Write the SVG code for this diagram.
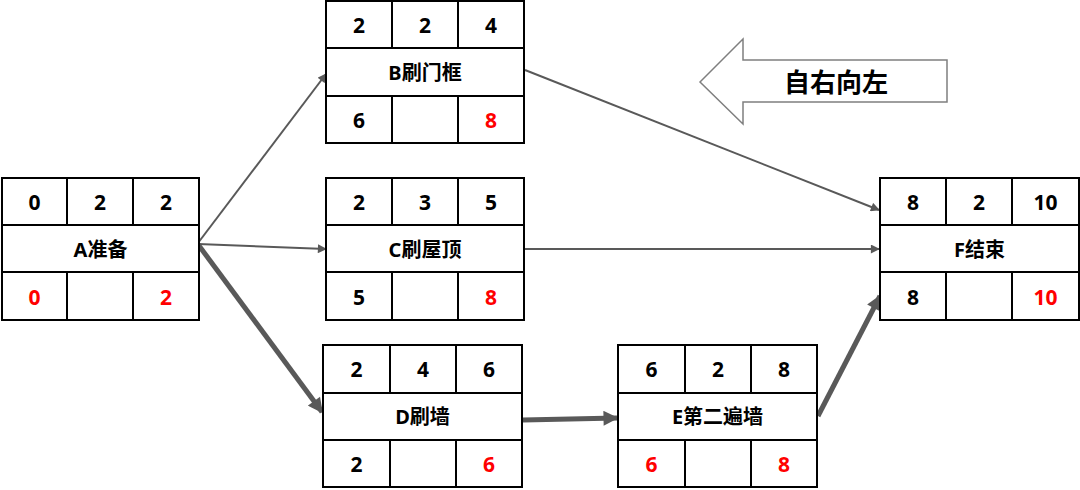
<svg xmlns="http://www.w3.org/2000/svg" width="1080" height="490" viewBox="0 0 1080 490">
<style>
.box{fill:#fff;stroke:#000;stroke-width:2}
.ln{stroke:#000;stroke-width:2}
.t{font-family:"Noto Sans","Noto Sans CJK SC",sans-serif;font-weight:bold;font-size:21px;text-anchor:middle;dominant-baseline:central;fill:#000}
.lb{font-size:20px}
.r{fill:#FF0000}
.thin{stroke:#595959;stroke-width:2;fill:none;marker-end:url(#ah)}
.thick{stroke:#595959;stroke-width:5;fill:none;marker-end:url(#ahb)}
</style>
<defs>
<marker id="ah" viewBox="0 0 10 10" refX="9" refY="5" markerWidth="5" markerHeight="4.5" orient="auto" markerUnits="strokeWidth"><path d="M0,0 L10,5 L0,10 z" fill="#595959"/></marker>
<marker id="ahb" viewBox="0 0 10 10" refX="9" refY="5" markerWidth="3.4" markerHeight="3" orient="auto" markerUnits="strokeWidth"><path d="M0,0 L10,5 L0,10 z" fill="#595959"/></marker>
</defs>
<rect width="1080" height="490" fill="#fff"/>
<g id="connectors">
<line class="thin" x1="198" y1="243" x2="326" y2="74"/>
<line class="thin" x1="198" y1="244" x2="326" y2="249"/>
<line class="thick" x1="197" y1="243" x2="322" y2="412"/>
<line class="thick" x1="523" y1="420" x2="617" y2="418"/>
<line class="thick" x1="818" y1="416" x2="880" y2="296"/>
<line class="thin" x1="525" y1="70" x2="879" y2="210"/>
<line class="thin" x1="525" y1="249" x2="879" y2="249"/>
</g>
<g id="direction">
<polygon points="700,82 743,39 743,60 947,60 947,102 743,102 743,124" fill="#fff" stroke="#7f7f7f" stroke-width="1.5"/>
<text class="t" x="836" y="82" style="font-size:26px">自右向左</text>
</g>
<g id="A" transform="translate(2,178)">
<rect class="box" width="197" height="142"/>
<line class="ln" x1="0" y1="47" x2="197" y2="47"/><line class="ln" x1="0" y1="94" x2="197" y2="94"/>
<line class="ln" x1="65" y1="0" x2="65" y2="47"/><line class="ln" x1="131" y1="0" x2="131" y2="47"/>
<line class="ln" x1="65" y1="94" x2="65" y2="142"/><line class="ln" x1="131" y1="94" x2="131" y2="142"/>
<text class="t" x="32.5" y="23.5">0</text><text class="t" x="98" y="23.5">2</text><text class="t" x="164" y="23.5">2</text>
<text class="t lb" x="98.5" y="71">A准备</text>
<text class="t r" x="32.5" y="118.5">0</text><text class="t r" x="164" y="118.5">2</text>
</g>
<g id="B" transform="translate(326,1)">
<rect class="box" width="198" height="142"/>
<line class="ln" x1="0" y1="47" x2="198" y2="47"/><line class="ln" x1="0" y1="95" x2="198" y2="95"/>
<line class="ln" x1="66" y1="0" x2="66" y2="47"/><line class="ln" x1="132" y1="0" x2="132" y2="47"/>
<line class="ln" x1="66" y1="95" x2="66" y2="142"/><line class="ln" x1="132" y1="95" x2="132" y2="142"/>
<text class="t" x="33" y="23.5">2</text><text class="t" x="99" y="23.5">2</text><text class="t" x="165" y="23.5">4</text>
<text class="t lb" x="99" y="71">B刷门框</text>
<text class="t" x="33" y="118.5">6</text><text class="t r" x="165" y="118.5">8</text>
</g>
<g id="C" transform="translate(326,178)">
<rect class="box" width="198" height="142"/>
<line class="ln" x1="0" y1="47" x2="198" y2="47"/><line class="ln" x1="0" y1="94" x2="198" y2="94"/>
<line class="ln" x1="66" y1="0" x2="66" y2="47"/><line class="ln" x1="132" y1="0" x2="132" y2="47"/>
<line class="ln" x1="66" y1="94" x2="66" y2="142"/><line class="ln" x1="132" y1="94" x2="132" y2="142"/>
<text class="t" x="33" y="23.5">2</text><text class="t" x="99" y="23.5">3</text><text class="t" x="165" y="23.5">5</text>
<text class="t lb" x="99" y="71">C刷屋顶</text>
<text class="t" x="33" y="118.5">5</text><text class="t r" x="165" y="118.5">8</text>
</g>
<g id="D" transform="translate(323,345)">
<rect class="box" width="199" height="142"/>
<line class="ln" x1="0" y1="48" x2="199" y2="48"/><line class="ln" x1="0" y1="95" x2="199" y2="95"/>
<line class="ln" x1="67" y1="0" x2="67" y2="48"/><line class="ln" x1="133" y1="0" x2="133" y2="48"/>
<line class="ln" x1="67" y1="95" x2="67" y2="142"/><line class="ln" x1="133" y1="95" x2="133" y2="142"/>
<text class="t" x="33.5" y="24">2</text><text class="t" x="100" y="24">4</text><text class="t" x="166" y="24">6</text>
<text class="t lb" x="99.5" y="71.5">D刷墙</text>
<text class="t" x="33.5" y="118.5">2</text><text class="t r" x="166" y="118.5">6</text>
</g>
<g id="E" transform="translate(618,345)">
<rect class="box" width="199" height="142"/>
<line class="ln" x1="0" y1="48" x2="199" y2="48"/><line class="ln" x1="0" y1="95" x2="199" y2="95"/>
<line class="ln" x1="67" y1="0" x2="67" y2="48"/><line class="ln" x1="133" y1="0" x2="133" y2="48"/>
<line class="ln" x1="67" y1="95" x2="67" y2="142"/><line class="ln" x1="133" y1="95" x2="133" y2="142"/>
<text class="t" x="33.5" y="24">6</text><text class="t" x="100" y="24">2</text><text class="t" x="166" y="24">8</text>
<text class="t lb" x="99.5" y="71.5">E第二遍墙</text>
<text class="t r" x="33.5" y="118.5">6</text><text class="t r" x="166" y="118.5">8</text>
</g>
<g id="F" transform="translate(880,178)">
<rect class="box" width="199" height="142"/>
<line class="ln" x1="0" y1="47" x2="199" y2="47"/><line class="ln" x1="0" y1="94" x2="199" y2="94"/>
<line class="ln" x1="66" y1="0" x2="66" y2="47"/><line class="ln" x1="132" y1="0" x2="132" y2="47"/>
<line class="ln" x1="66" y1="94" x2="66" y2="142"/><line class="ln" x1="132" y1="94" x2="132" y2="142"/>
<text class="t" x="33" y="23.5">8</text><text class="t" x="99" y="23.5">2</text><text class="t" x="165.5" y="23.5">10</text>
<text class="t lb" x="99.5" y="71">F结束</text>
<text class="t" x="33" y="118.5">8</text><text class="t r" x="165.5" y="118.5">10</text>
</g>
</svg>
